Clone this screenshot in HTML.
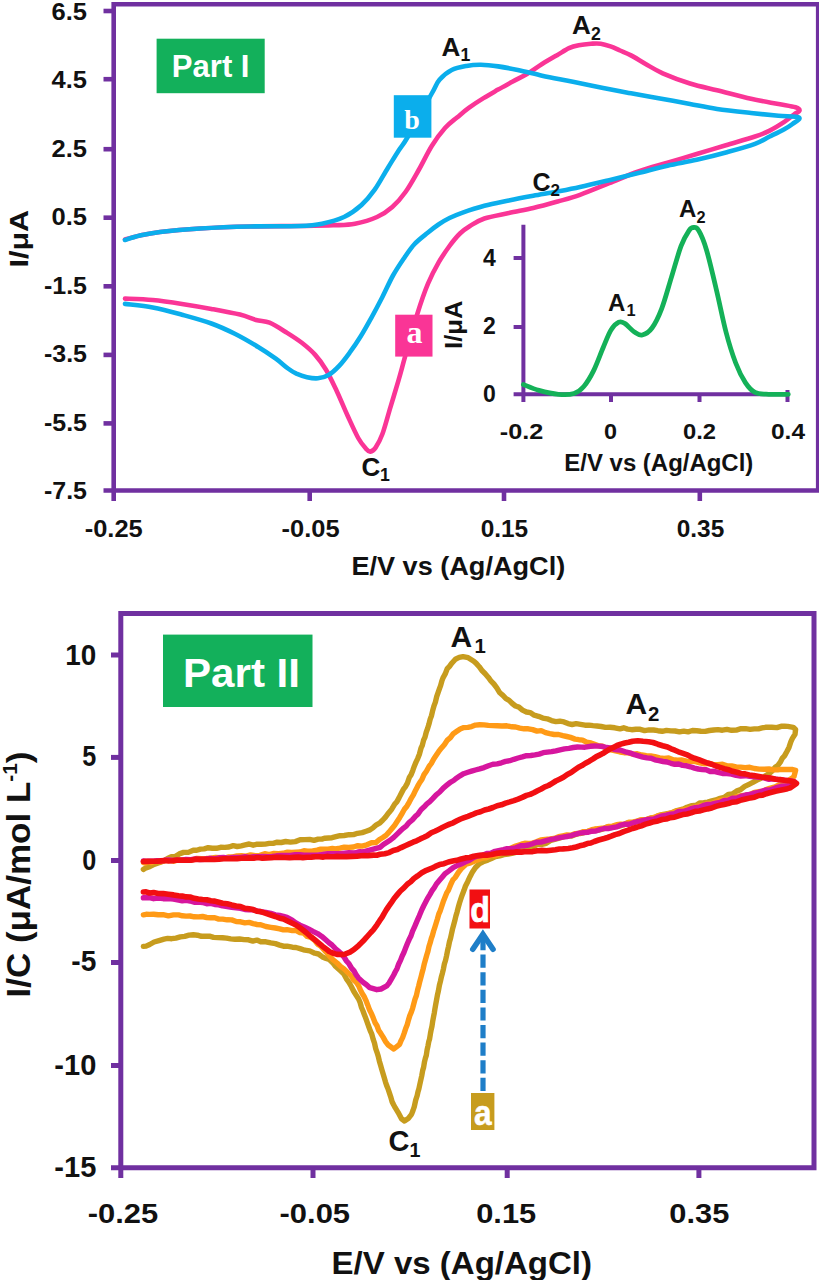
<!DOCTYPE html>
<html><head><meta charset="utf-8"><title>CV</title>
<style>html,body{margin:0;padding:0;background:#fff}body{width:819px;height:1280px;overflow:hidden}</style></head>
<body>
<svg width="819" height="1280" viewBox="0 0 819 1280" style="display:block;font-family:'Liberation Sans',sans-serif;font-weight:700">
<rect width="819" height="1280" fill="#fff"/>
<g fill="none" stroke="#7030A0" stroke-width="4.6">
<path d="M113.7 501 V4.3 H818.2 V490.5 H103.5"/>
<path d="M103.5 11.0 H113.7"/>
<path d="M103.5 79.2 H113.7"/>
<path d="M103.5 149.2 H113.7"/>
<path d="M103.5 217.7 H113.7"/>
<path d="M103.5 286.3 H113.7"/>
<path d="M103.5 354.9 H113.7"/>
<path d="M103.5 423.4 H113.7"/>
<path d="M309.7 490.5 V501"/>
<path d="M504.0 490.5 V501"/>
<path d="M699.8 490.5 V501"/>
<path d="M523.4 224.8 V402 M513.6 394.3 H788.3 M611 394.3 V402 M699.5 394.3 V402 M787.5 390 V402 M513.6 258 H523.4 M513.6 327 H523.4" stroke-width="4"/>
</g>
<g fill="none" stroke-linecap="round" stroke-linejoin="round" stroke-width="4.6">
<path d="M125.0 239.5 C127.5 238.8 134.2 236.8 140.0 235.5 C145.8 234.2 150.0 233.2 160.0 232.0 C170.0 230.8 185.0 229.4 200.0 228.5 C215.0 227.6 233.3 226.9 250.0 226.5 C266.7 226.1 286.2 226.2 300.0 226.0 C313.8 225.8 323.8 225.7 333.0 225.3 C342.2 224.9 347.7 225.1 355.0 223.7 C362.3 222.3 370.8 219.8 377.0 217.0 C383.2 214.2 387.6 211.2 392.3 207.0 C397.1 202.8 401.1 198.2 405.5 192.0 C409.9 185.8 414.3 177.7 418.7 170.0 C423.1 162.3 427.5 152.7 431.9 145.7 C436.3 138.7 440.8 132.7 445.0 128.0 C449.2 123.3 453.0 120.8 457.0 117.5 C461.0 114.2 464.4 111.1 468.8 107.9 C473.2 104.7 478.6 101.1 483.5 98.1 C488.4 95.0 493.2 92.4 498.1 89.6 C503.0 86.8 507.9 84.2 512.8 81.5 C517.7 78.8 522.5 76.6 527.4 73.7 C532.3 70.8 537.2 67.0 542.1 64.0 C547.0 61.0 552.2 58.0 556.7 55.4 C561.2 52.8 565.3 49.8 569.0 48.1 C572.7 46.4 575.1 45.9 578.7 45.2 C582.4 44.5 587.2 44.0 590.9 43.7 C594.6 43.5 597.4 43.2 600.7 43.7 C604.0 44.2 607.3 45.3 610.5 46.4 C613.7 47.5 616.6 49.0 620.0 50.5 C623.4 52.0 626.7 53.1 631.0 55.4 C635.3 57.6 640.3 61.0 645.6 64.0 C650.9 67.0 655.3 70.0 662.7 73.3 C670.1 76.5 681.0 80.7 690.0 83.5 C699.0 86.3 706.8 87.8 717.0 90.3 C727.2 92.8 740.8 96.5 751.0 98.8 C761.2 101.1 771.1 102.6 778.5 104.0 C785.9 105.4 792.0 106.2 795.5 107.3 C799.0 108.4 799.8 109.5 799.5 110.7 C799.2 111.9 796.5 112.6 794.0 114.5 C791.5 116.4 788.3 119.2 784.3 121.9 C780.2 124.6 774.6 128.2 769.7 130.6 C764.8 133.0 762.3 134.1 755.0 136.5 C747.7 138.9 735.6 142.3 725.9 145.2 C716.2 148.1 706.4 151.1 696.7 154.0 C687.0 156.9 677.2 159.8 667.5 162.7 C657.8 165.6 648.1 168.1 638.4 171.5 C628.7 174.9 618.9 179.3 609.2 183.2 C599.5 187.1 588.6 191.8 580.0 194.8 C571.4 197.9 565.5 199.3 557.7 201.5 C549.9 203.7 541.4 206.1 533.3 208.0 C525.1 209.9 517.0 211.2 508.8 213.0 C500.7 214.8 490.9 216.3 484.4 218.5 C477.9 220.7 474.1 223.5 470.0 226.0 C465.9 228.5 463.4 230.2 460.0 233.5 C456.6 236.8 453.0 241.2 449.5 246.0 C446.0 250.8 442.4 255.9 438.8 262.2 C435.2 268.5 431.6 275.1 428.0 283.7 C424.4 292.3 421.1 301.9 417.3 314.0 C413.5 326.1 408.3 345.1 405.2 356.2 C402.1 367.3 401.0 371.9 398.5 380.4 C396.0 388.9 393.1 398.4 390.4 407.3 C387.7 416.2 384.9 427.3 382.4 434.0 C379.9 440.7 377.6 444.7 375.6 447.6 C373.6 450.5 371.9 451.4 370.3 451.6 C368.7 451.8 368.2 451.3 366.2 449.0 C364.2 446.7 361.3 443.6 358.2 438.0 C355.1 432.4 351.0 423.1 347.4 415.3 C343.8 407.5 340.3 398.6 336.7 391.0 C333.1 383.4 329.6 375.7 326.0 369.7 C322.4 363.7 319.2 359.4 315.2 354.9 C311.2 350.4 306.7 346.6 301.8 342.8 C296.9 339.0 291.1 335.4 285.7 332.0 C280.3 328.6 274.4 324.7 269.5 322.7 C264.6 320.7 260.9 321.4 256.0 320.0 C251.1 318.6 247.4 316.5 240.0 314.6 C232.6 312.8 221.1 310.7 211.4 308.9 C201.7 307.1 191.8 305.4 182.0 303.9 C172.2 302.4 162.2 300.9 152.7 300.0 C143.2 299.1 129.6 298.8 125.0 298.6" stroke="#FA3596"/>
<path d="M125.0 240.0 C127.5 239.2 134.2 236.8 140.0 235.5 C145.8 234.2 150.0 233.2 160.0 232.0 C170.0 230.8 185.0 229.4 200.0 228.5 C215.0 227.6 233.3 226.9 250.0 226.5 C266.7 226.1 288.0 226.5 300.0 226.0 C312.0 225.5 314.7 225.2 322.0 223.7 C329.3 222.2 337.4 220.1 344.0 217.0 C350.6 213.9 356.4 209.6 361.5 205.0 C366.6 200.4 370.3 195.9 374.7 189.7 C379.1 183.5 383.9 174.3 388.0 167.7 C392.1 161.1 395.7 155.1 399.0 150.0 C402.3 144.9 402.3 146.3 407.7 137.0 C413.1 127.7 426.2 103.5 431.5 94.0 C436.8 84.5 436.1 83.8 439.5 79.8 C442.9 75.8 447.2 72.3 451.7 70.0 C456.2 67.7 461.5 66.8 466.4 65.9 C471.3 65.0 475.7 64.6 481.0 64.7 C486.3 64.8 492.0 65.5 498.1 66.4 C504.2 67.3 510.4 68.5 517.7 70.0 C525.0 71.5 534.0 73.9 542.1 75.7 C550.2 77.5 558.4 79.0 566.5 80.6 C574.6 82.2 582.0 83.6 590.9 85.4 C599.8 87.2 613.3 90.0 620.0 91.3 C626.7 92.6 624.3 92.1 631.0 93.3 C637.7 94.5 650.2 96.7 660.0 98.5 C669.8 100.3 680.5 102.2 690.0 104.0 C699.5 105.8 706.8 107.5 717.0 109.0 C727.2 110.5 740.8 111.9 751.0 113.0 C761.2 114.1 770.5 115.0 778.5 115.8 C786.5 116.5 796.7 116.1 799.0 117.5 C801.3 118.9 795.0 122.0 792.5 124.0 C790.0 126.0 788.1 127.1 784.3 129.2 C780.5 131.3 774.6 134.1 769.7 136.5 C764.8 138.9 762.3 141.1 755.0 143.8 C747.7 146.5 735.6 149.8 725.9 152.5 C716.2 155.2 706.4 157.6 696.7 159.8 C687.0 162.0 677.2 163.5 667.5 165.7 C657.8 167.9 648.1 170.6 638.4 173.0 C628.7 175.4 618.9 177.9 609.2 180.2 C599.5 182.5 588.6 185.1 580.0 187.0 C571.4 188.9 565.5 190.0 557.7 191.5 C549.9 193.0 541.4 194.3 533.3 195.8 C525.1 197.3 517.0 198.8 508.8 200.5 C500.7 202.2 492.2 203.8 484.4 205.8 C476.6 207.9 467.8 210.8 462.0 212.8 C456.2 214.8 453.4 216.1 449.5 218.0 C445.6 219.9 442.1 222.1 438.5 224.5 C434.9 226.9 432.0 229.2 428.0 232.5 C424.0 235.8 418.6 239.7 414.6 244.0 C410.6 248.3 407.4 253.2 403.8 258.5 C400.2 263.8 396.6 269.1 393.0 275.5 C389.4 281.9 386.0 290.0 382.4 297.0 C378.8 304.0 375.2 310.8 371.6 317.3 C368.0 323.8 364.5 330.2 360.9 336.0 C357.3 341.8 353.6 347.3 350.0 352.2 C346.4 357.1 343.0 361.8 339.4 365.6 C335.8 369.4 332.2 372.9 328.6 375.0 C325.0 377.1 321.5 377.9 317.9 378.3 C314.3 378.7 310.6 378.0 307.0 377.2 C303.4 376.4 299.6 375.1 296.4 373.7 C293.2 372.2 291.4 371.0 288.0 368.5 C284.6 366.0 280.8 362.3 275.8 358.7 C270.8 355.1 265.0 351.1 258.2 347.0 C251.4 342.9 242.6 337.7 234.8 333.8 C227.0 329.9 220.2 326.7 211.4 323.5 C202.6 320.3 191.8 317.4 182.0 314.7 C172.2 312.0 162.2 309.2 152.7 307.4 C143.2 305.6 129.6 304.5 125.0 303.9" stroke="#0BAEEC"/>
<path d="M523.4 384.5 C526.0 385.5 533.2 388.8 539.0 390.4 C544.8 392.0 552.6 393.8 558.4 394.3 C564.2 394.8 569.8 394.8 574.0 393.5 C578.2 392.2 580.5 390.3 583.8 386.5 C587.0 382.7 590.3 377.4 593.5 370.9 C596.7 364.4 600.3 354.3 603.2 347.5 C606.1 340.7 608.4 334.2 611.0 330.0 C613.6 325.8 616.5 323.3 618.8 322.2 C621.1 321.1 622.1 321.8 624.7 323.4 C627.3 325.0 631.5 330.1 634.4 332.0 C637.3 333.9 639.3 335.7 642.2 335.0 C645.1 334.3 648.8 332.4 652.0 328.0 C655.2 323.6 658.5 317.0 661.7 308.6 C664.9 300.2 668.2 287.8 671.4 277.4 C674.6 267.0 678.1 254.0 681.0 246.2 C683.9 238.4 686.9 233.7 689.0 230.6 C691.1 227.5 692.0 227.5 693.6 227.5 C695.2 227.5 696.6 226.8 698.7 230.6 C700.9 234.3 703.6 240.3 706.5 250.0 C709.4 259.7 713.0 275.3 716.2 289.0 C719.5 302.7 722.8 319.7 726.0 332.0 C729.2 344.3 732.5 354.6 735.7 363.0 C738.9 371.4 742.2 377.7 745.4 382.6 C748.6 387.5 751.1 390.4 755.0 392.3 C758.9 394.2 763.2 394.0 768.8 394.3 C774.3 394.6 785.0 394.3 788.3 394.3" stroke="#14B158" stroke-width="4.8"/>
</g>
<rect x="156.6" y="38.7" width="108.1" height="54.5" fill="#13B05B"/>
<text x="171.8" y="77.2" font-size="31.0" text-anchor="start" fill="#fff" textLength="77.7" lengthAdjust="spacingAndGlyphs" >Part I</text>
<rect x="393.8" y="95.2" width="37.6" height="42.5" fill="#0BAEEC"/>
<text x="412" y="129.4" font-size="28" text-anchor="middle" fill="#fff" font-family="'Liberation Serif',serif">b</text>
<rect x="395.2" y="314.7" width="37.3" height="41.9" fill="#FA3596"/>
<text x="414.6" y="343.3" font-size="32" text-anchor="middle" fill="#fff" font-family="'Liberation Serif',serif">a</text>
<text x="441.5" y="55.7" font-size="26.0" fill="#111">A</text>
<text x="460.5" y="60.7" font-size="17.7" fill="#111">1</text>
<text x="572.0" y="33.5" font-size="26.0" fill="#111">A</text>
<text x="591.0" y="39.5" font-size="17.7" fill="#111">2</text>
<text x="532.5" y="190.5" font-size="25.0" fill="#111">C</text>
<text x="550.5" y="195.5" font-size="17.0" fill="#111">2</text>
<text x="361.5" y="476.0" font-size="26.0" fill="#111">C</text>
<text x="380.0" y="481.0" font-size="17.7" fill="#111">1</text>
<text x="679.0" y="217.0" font-size="24.0" fill="#111">A</text>
<text x="696.5" y="223.0" font-size="16.3" fill="#111">2</text>
<text x="608.0" y="310.5" font-size="24.0" fill="#111">A</text>
<text x="626.5" y="315.5" font-size="16.3" fill="#111">1</text>
<text x="87.0" y="20.3" font-size="24.0" text-anchor="end" fill="#111" textLength="35.5" lengthAdjust="spacingAndGlyphs" >6.5</text>
<text x="87.0" y="88.3" font-size="24.0" text-anchor="end" fill="#111" textLength="35.5" lengthAdjust="spacingAndGlyphs" >4.5</text>
<text x="87.0" y="157.4" font-size="24.0" text-anchor="end" fill="#111" textLength="35.5" lengthAdjust="spacingAndGlyphs" >2.5</text>
<text x="87.0" y="224.6" font-size="24.0" text-anchor="end" fill="#111" textLength="35.5" lengthAdjust="spacingAndGlyphs" >0.5</text>
<text x="87.0" y="293.8" font-size="24.0" text-anchor="end" fill="#111" textLength="43.0" lengthAdjust="spacingAndGlyphs" >-1.5</text>
<text x="87.0" y="362.4" font-size="24.0" text-anchor="end" fill="#111" textLength="43.0" lengthAdjust="spacingAndGlyphs" >-3.5</text>
<text x="87.0" y="431.0" font-size="24.0" text-anchor="end" fill="#111" textLength="43.0" lengthAdjust="spacingAndGlyphs" >-5.5</text>
<text x="87.0" y="499.0" font-size="24.0" text-anchor="end" fill="#111" textLength="43.0" lengthAdjust="spacingAndGlyphs" >-7.5</text>
<text x="113.7" y="537.0" font-size="24.0" text-anchor="middle" fill="#111" textLength="58.0" lengthAdjust="spacingAndGlyphs" >-0.25</text>
<text x="310.6" y="537.0" font-size="24.0" text-anchor="middle" fill="#111" textLength="58.0" lengthAdjust="spacingAndGlyphs" >-0.05</text>
<text x="504.4" y="537.0" font-size="24.0" text-anchor="middle" fill="#111" textLength="47.5" lengthAdjust="spacingAndGlyphs" >0.15</text>
<text x="700.5" y="537.0" font-size="24.0" text-anchor="middle" fill="#111" textLength="47.5" lengthAdjust="spacingAndGlyphs" >0.35</text>
<text x="351.4" y="575.0" font-size="25.5" text-anchor="start" fill="#111" textLength="213.8" lengthAdjust="spacingAndGlyphs" >E/V vs (Ag/AgCl)</text>
<text transform="translate(28,267.5) rotate(-90)" font-size="25.5" fill="#111" textLength="57.5" lengthAdjust="spacingAndGlyphs">I/μA</text>
<text x="495.8" y="265.5" font-size="23.0" text-anchor="end" fill="#111" >4</text>
<text x="495.8" y="334.3" font-size="23.0" text-anchor="end" fill="#111" >2</text>
<text x="495.8" y="401.5" font-size="23.0" text-anchor="end" fill="#111" >0</text>
<text x="521.5" y="439.3" font-size="22.5" text-anchor="middle" fill="#111" textLength="43.5" lengthAdjust="spacingAndGlyphs" >-0.2</text>
<text x="610.6" y="439.3" font-size="22.5" text-anchor="middle" fill="#111" textLength="13.0" lengthAdjust="spacingAndGlyphs" >0</text>
<text x="699.5" y="439.3" font-size="22.5" text-anchor="middle" fill="#111" textLength="33.0" lengthAdjust="spacingAndGlyphs" >0.2</text>
<text x="788.0" y="439.3" font-size="22.5" text-anchor="middle" fill="#111" textLength="34.0" lengthAdjust="spacingAndGlyphs" >0.4</text>
<text x="564.3" y="470.5" font-size="23.5" text-anchor="start" fill="#111" textLength="189.0" lengthAdjust="spacingAndGlyphs" >E/V vs (Ag/AgCl)</text>
<text transform="translate(462,349) rotate(-90)" font-size="23.5" fill="#111" textLength="48.5" lengthAdjust="spacingAndGlyphs">I/μA</text>
<g fill="none" stroke="#7030A0" stroke-width="5">
<path d="M120.8 1178 V613.6 H814 V1167.8 H111"/>
<path d="M111 655.0 H120.8"/>
<path d="M111 757.4 H120.8"/>
<path d="M111 860.5 H120.8"/>
<path d="M111 962.5 H120.8"/>
<path d="M111 1065.5 H120.8"/>
<path d="M313.0 1167.8 V1178"/>
<path d="M507.2 1167.8 V1178"/>
<path d="M698.9 1167.8 V1178"/>
</g>
<g fill="none" stroke-linecap="round" stroke-linejoin="round" stroke-width="5.4">
<path d="M143.4 869.4 L146.1 867.8 L149.7 866.7 L154.1 864.4 L159.0 862.8 L164.0 860.8 L167.6 858.4 L171.3 856.7 L175.2 856.6 L179.3 853.9 L183.6 852.4 L188.3 852.4 L193.3 850.2 L196.7 850.3 L200.4 849.1 L204.2 848.9 L208.2 847.7 L212.3 848.2 L216.4 848.3 L220.6 847.3 L224.8 847.4 L229.0 847.0 L233.2 845.6 L237.2 846.5 L241.2 845.8 L245.2 844.9 L249.2 844.0 L253.2 845.2 L257.2 844.1 L261.2 844.2 L265.2 844.1 L269.2 843.4 L273.2 843.4 L277.2 842.2 L281.2 842.5 L285.7 841.5 L290.4 842.1 L295.3 841.6 L300.1 839.8 L304.9 839.6 L309.6 839.4 L314.0 840.4 L318.1 839.1 L321.8 839.1 L325.0 838.2 L332.0 837.7 L335.9 836.7 L340.0 835.7 L344.3 835.5 L349.0 834.7 L353.5 834.6 L357.6 833.3 L362.2 832.6 L366.2 831.2 L370.0 829.9 L373.3 827.6 L376.4 824.8 L380.0 822.8 L382.6 820.3 L385.5 817.1 L388.6 812.9 L391.7 809.2 L394.7 804.1 L396.8 801.9 L399.0 797.9 L401.1 793.7 L403.3 789.4 L405.3 786.8 L407.4 783.1 L409.3 777.5 L411.1 774.8 L412.9 770.2 L414.5 765.7 L416.1 761.9 L417.7 758.6 L419.4 754.3 L421.0 748.2 L422.3 745.3 L423.6 740.2 L425.0 737.1 L426.3 732.0 L427.6 728.5 L428.9 724.3 L430.2 719.1 L431.5 715.7 L432.7 710.5 L434.1 705.6 L435.4 702.1 L436.7 696.7 L438.0 692.8 L439.3 689.1 L440.6 685.6 L441.8 681.2 L443.0 677.8 L445.2 673.9 L447.3 668.6 L449.5 666.3 L451.8 663.2 L455.4 659.2 L459.2 657.4 L463.0 656.6 L468.2 657.7 L473.8 661.2 L476.4 663.6 L479.2 666.7 L482.2 670.8 L485.2 673.7 L488.4 677.4 L491.1 681.2 L493.9 684.0 L496.8 687.8 L499.8 692.8 L502.9 695.4 L506.0 698.6 L509.1 700.3 L512.3 703.5 L515.5 706.0 L518.9 707.1 L522.5 710.1 L526.5 712.0 L530.2 712.6 L534.2 715.2 L538.4 716.3 L542.8 718.1 L547.2 718.8 L551.5 720.6 L555.8 721.6 L559.9 721.2 L564.0 721.9 L568.0 723.6 L572.1 724.5 L576.2 723.7 L580.5 724.4 L585.0 725.2 L589.0 725.1 L593.0 725.6 L597.0 726.0 L601.2 726.5 L605.5 727.4 L610.0 727.2 L614.8 727.8 L620.0 728.9 L623.7 727.8 L627.6 729.1 L631.7 729.7 L635.9 729.2 L640.2 729.3 L644.6 730.6 L649.0 729.9 L653.5 730.0 L657.9 730.7 L662.3 731.3 L666.5 730.4 L670.7 730.9 L675.1 731.0 L679.5 731.9 L683.8 731.1 L688.1 731.8 L692.4 730.5 L696.7 730.7 L700.9 731.2 L705.2 731.4 L709.4 730.5 L713.7 730.0 L718.0 729.6 L722.4 730.2 L727.0 729.4 L731.6 730.3 L736.3 730.1 L741.0 728.7 L745.6 728.7 L750.1 729.4 L754.4 728.9 L758.4 728.9 L762.1 727.9 L765.5 727.3 L771.8 727.2 L776.9 727.6 L781.1 726.3 L784.6 726.2 L787.7 726.4 L793.2 727.3 L795.6 729.5 L795.0 734.3 L792.4 738.4 L790.9 741.6 L789.0 747.4 L786.9 751.5 L784.5 755.9 L782.4 758.1 L780.3 762.2 L777.9 765.4 L775.2 767.3 L771.9 771.2 L768.7 773.9 L764.9 776.0 L761.0 778.2 L756.9 780.1 L752.8 782.4 L749.0 784.3 L744.7 786.4 L740.6 789.6 L736.5 791.1 L732.4 794.0 L728.3 794.4 L724.2 797.4 L720.1 798.3 L715.9 799.9 L711.8 800.9 L707.7 802.1 L703.7 802.7 L700.0 802.9 L696.1 805.3 L691.9 805.6 L687.0 807.2 L683.5 808.9 L679.8 809.8 L675.8 810.8 L671.6 813.0 L667.4 813.7 L663.2 814.4 L659.0 815.4 L654.9 817.7 L650.9 818.0 L646.9 819.5 L643.0 819.7 L639.0 820.4 L635.1 821.9 L631.1 823.3 L627.2 823.0 L623.2 825.0 L619.2 826.1 L615.3 826.7 L611.3 827.5 L607.4 826.9 L603.4 828.8 L599.5 830.0 L595.5 829.3 L591.6 830.6 L587.6 831.5 L583.7 832.8 L579.7 833.5 L575.7 834.5 L571.7 836.0 L567.8 835.6 L563.9 836.7 L560.0 837.8 L555.5 839.1 L550.9 840.3 L546.3 843.3 L541.9 844.4 L537.6 844.4 L533.6 846.4 L530.0 847.2 L524.7 848.8 L520.5 850.3 L516.7 852.1 L513.0 853.2 L508.2 854.0 L503.9 854.6 L499.7 855.9 L495.5 856.6 L491.4 858.5 L487.7 860.1 L483.0 861.8 L479.0 864.0 L475.5 867.5 L472.3 872.3 L470.0 876.7 L467.7 881.7 L465.5 886.0 L463.9 890.6 L462.4 894.4 L461.0 898.4 L459.5 903.0 L458.3 907.3 L457.1 911.9 L455.9 916.0 L454.7 921.1 L453.5 925.4 L452.5 929.1 L451.5 933.8 L450.5 938.4 L449.5 941.6 L448.5 946.6 L447.5 950.9 L446.5 956.0 L445.5 960.5 L444.4 963.8 L443.4 969.1 L442.4 973.2 L441.5 976.4 L440.4 981.4 L439.4 985.2 L438.4 990.9 L437.4 995.2 L436.4 1000.7 L435.7 1004.5 L435.0 1008.4 L434.3 1012.9 L433.5 1017.0 L432.8 1020.7 L432.0 1026.1 L431.2 1029.6 L430.4 1033.8 L429.6 1038.9 L428.8 1041.6 L428.0 1045.8 L427.1 1049.8 L426.3 1055.3 L425.4 1058.1 L424.5 1061.8 L423.6 1067.4 L422.7 1070.4 L421.7 1076.0 L420.8 1080.0 L419.8 1084.5 L418.9 1088.7 L418.0 1091.7 L417.2 1095.5 L415.7 1100.1 L414.3 1106.6 L413.0 1110.5 L411.5 1114.4 L408.2 1118.6 L404.5 1121.0 L401.5 1118.8 L398.2 1112.6 L395.2 1107.7 L393.6 1104.8 L392.1 1101.7 L390.7 1096.8 L389.3 1092.6 L387.9 1088.5 L386.7 1085.6 L385.5 1082.1 L384.2 1077.6 L383.0 1073.5 L381.8 1069.5 L380.6 1065.3 L379.4 1061.2 L378.2 1056.1 L377.0 1052.3 L375.7 1048.6 L374.5 1043.2 L373.3 1039.7 L371.8 1034.2 L370.3 1030.9 L368.9 1027.0 L367.4 1022.9 L365.9 1018.7 L364.4 1014.7 L363.0 1011.0 L361.5 1007.5 L360.1 1002.5 L358.6 999.0 L356.2 995.3 L353.7 991.3 L351.3 986.5 L348.8 982.2 L346.3 978.6 L344.0 974.2 L341.1 971.3 L338.0 968.5 L335.5 966.3 L332.7 962.7 L329.3 959.5 L326.1 958.4 L322.4 956.9 L318.5 954.0 L314.7 953.2 L309.7 950.9 L304.8 950.2 L300.0 948.6 L296.0 947.5 L292.3 947.2 L287.0 946.1 L283.5 946.2 L279.7 945.1 L275.4 943.6 L270.8 942.9 L265.9 941.8 L260.7 941.7 L256.9 940.1 L252.9 941.1 L248.5 939.8 L244.1 939.6 L239.6 939.0 L235.1 939.3 L230.7 938.9 L226.5 938.1 L222.6 937.7 L218.0 937.6 L213.6 937.4 L209.4 936.1 L205.4 936.2 L201.4 936.3 L197.4 935.2 L193.3 934.8 L189.0 935.1 L184.7 936.4 L180.3 936.9 L175.9 938.1 L171.7 938.7 L167.7 938.4 L164.0 939.1 L159.0 940.6 L154.1 942.0 L149.7 944.5 L146.1 946.1 L143.4 946.4" stroke="#C79C1E"/>
<path d="M143.4 862.5 L145.6 863.0 L148.2 861.8 L151.1 862.6 L154.3 861.5 L157.7 861.5 L161.4 861.7 L165.3 860.5 L169.5 860.2 L173.7 861.2 L178.2 860.0 L182.7 859.8 L187.3 859.9 L192.0 859.8 L196.8 858.4 L201.5 858.6 L206.3 858.5 L211.0 858.2 L215.6 857.5 L220.2 857.8 L224.6 858.1 L228.9 856.9 L233.1 856.9 L237.0 855.9 L241.5 855.8 L246.0 856.1 L250.6 854.9 L255.3 855.7 L260.0 855.4 L264.7 853.7 L269.3 854.7 L274.0 853.4 L278.6 853.7 L283.1 853.3 L287.5 852.2 L291.8 852.4 L296.0 852.1 L300.1 852.0 L303.9 850.8 L307.6 851.2 L311.1 851.3 L314.3 850.6 L317.3 850.1 L320.0 849.2 L328.0 849.1 L332.4 848.5 L334.9 848.9 L336.9 848.6 L340.0 848.1 L344.3 847.1 L348.8 847.4 L353.4 847.0 L357.8 845.7 L362.0 846.1 L366.9 844.8 L371.5 842.8 L375.8 842.6 L380.0 839.2 L383.2 837.3 L386.1 835.3 L389.0 832.1 L391.8 828.7 L394.7 825.2 L397.1 821.6 L399.6 817.7 L402.0 813.6 L404.4 809.3 L406.9 806.2 L409.3 802.1 L411.4 798.1 L413.5 794.7 L415.6 790.2 L417.7 786.2 L419.8 782.5 L421.9 779.5 L424.0 774.6 L426.4 771.2 L428.9 766.7 L431.3 763.5 L433.7 758.9 L436.2 755.2 L438.6 751.7 L441.5 747.9 L444.5 744.4 L447.4 740.1 L450.4 737.6 L453.3 733.7 L456.8 731.3 L460.2 729.0 L463.8 727.6 L467.9 727.4 L471.6 726.6 L475.5 725.1 L479.7 724.8 L484.0 724.9 L488.4 725.4 L492.8 725.6 L497.3 725.8 L501.9 726.0 L506.8 725.8 L511.9 726.8 L515.8 727.0 L519.8 728.1 L524.1 728.8 L528.3 728.8 L532.7 729.6 L537.0 731.1 L541.2 730.6 L545.5 732.6 L549.8 733.6 L554.2 734.5 L558.6 734.5 L562.8 735.6 L566.8 736.5 L570.5 737.4 L575.0 739.1 L578.9 739.7 L582.6 740.1 L586.5 742.2 L591.0 743.0 L594.6 744.3 L598.5 745.8 L602.5 746.1 L606.7 748.7 L611.0 749.9 L615.5 750.9 L620.0 752.0 L624.1 752.7 L628.4 752.9 L632.8 754.1 L637.3 753.8 L641.8 755.0 L646.3 755.7 L650.7 755.9 L654.9 756.6 L659.6 757.9 L664.2 758.5 L668.7 758.0 L673.1 759.8 L677.6 760.2 L682.0 760.0 L686.5 761.1 L691.0 761.4 L695.5 761.6 L700.0 762.8 L704.5 763.8 L709.0 763.3 L713.5 764.6 L718.0 764.7 L722.5 764.3 L727.0 765.9 L731.6 766.0 L736.1 767.0 L740.6 767.1 L745.2 767.6 L749.7 767.3 L754.4 768.5 L759.3 769.1 L764.2 769.3 L769.0 769.0 L773.6 769.9 L777.8 769.7 L781.4 769.4 L788.0 769.5 L792.7 769.5 L795.6 770.3 L794.0 776.5 L791.5 778.6 L788.2 780.8 L784.3 782.6 L779.9 784.5 L775.0 786.9 L769.7 788.3 L766.3 789.6 L762.5 791.2 L758.5 791.7 L754.4 792.3 L750.1 794.5 L745.7 795.2 L741.3 795.7 L736.8 796.7 L732.5 798.0 L728.3 799.2 L724.2 799.6 L720.0 800.3 L715.9 801.7 L711.8 803.6 L707.6 803.6 L703.5 805.2 L699.4 805.8 L695.3 806.9 L691.1 807.8 L687.0 809.2 L682.9 809.9 L678.7 810.7 L674.6 811.9 L670.4 813.0 L666.3 814.6 L662.2 814.9 L658.0 815.8 L653.9 817.5 L649.7 818.4 L645.6 819.8 L641.5 819.7 L637.3 821.1 L633.2 822.0 L629.0 822.2 L624.9 824.5 L620.8 824.1 L616.6 824.7 L612.5 826.1 L608.3 826.4 L604.2 828.0 L600.1 828.4 L595.9 828.9 L591.8 829.6 L587.6 831.5 L583.5 831.6 L579.4 833.3 L575.2 833.6 L571.1 835.2 L566.9 835.0 L562.8 835.8 L558.6 836.7 L554.2 838.4 L549.8 839.0 L545.3 839.5 L540.8 839.9 L536.5 841.8 L532.3 843.1 L528.4 843.4 L524.7 843.3 L521.4 844.2 L515.8 846.1 L511.2 848.1 L507.3 849.7 L503.7 851.3 L500.0 853.7 L495.2 855.6 L490.7 855.5 L486.5 857.7 L482.6 858.0 L478.1 859.8 L474.1 861.3 L470.6 862.9 L466.0 864.2 L462.0 867.9 L458.5 872.2 L455.2 877.5 L452.9 879.9 L450.7 884.5 L448.4 890.2 L446.7 892.9 L444.9 897.5 L443.2 901.8 L441.5 907.0 L440.1 911.2 L438.8 914.0 L437.4 919.0 L436.1 923.2 L434.7 927.7 L433.6 931.0 L432.4 935.5 L431.3 938.5 L430.2 942.7 L429.0 946.4 L427.9 951.4 L426.7 955.2 L425.6 959.2 L424.4 963.4 L423.2 968.7 L422.1 972.8 L421.0 977.1 L419.8 981.4 L418.7 986.0 L417.6 990.0 L416.4 995.5 L415.0 999.2 L413.8 1003.7 L412.6 1008.3 L411.2 1012.4 L409.8 1015.6 L408.5 1019.9 L407.2 1024.7 L406.0 1027.7 L404.2 1033.2 L402.6 1037.6 L401.1 1040.6 L399.6 1044.3 L393.8 1049.0 L387.9 1044.7 L385.6 1041.6 L383.1 1037.1 L380.6 1033.2 L378.8 1030.7 L377.0 1025.8 L375.1 1022.8 L373.3 1018.1 L371.5 1013.7 L369.6 1010.1 L367.7 1004.9 L365.9 1000.3 L364.1 996.5 L362.2 993.5 L360.4 989.9 L358.6 985.7 L356.2 982.2 L353.7 980.1 L351.3 975.9 L348.1 972.9 L344.0 968.9 L340.8 966.6 L337.1 963.0 L333.1 959.8 L329.3 955.9 L326.4 952.4 L323.5 949.2 L320.5 945.9 L317.6 944.1 L314.7 940.4 L311.0 937.4 L307.2 936.4 L303.6 933.1 L300.0 932.6 L296.0 930.3 L292.3 930.6 L287.0 929.6 L283.5 929.9 L279.7 928.8 L275.4 928.0 L270.8 927.3 L265.9 926.5 L260.7 924.8 L257.0 924.5 L253.1 923.6 L249.1 922.4 L244.9 922.9 L240.6 921.8 L236.2 921.5 L231.7 919.9 L227.2 919.8 L222.6 919.1 L218.8 919.1 L214.8 917.7 L210.8 917.7 L206.7 917.5 L202.5 916.5 L198.3 916.9 L194.2 916.8 L190.1 916.0 L186.1 916.1 L182.3 915.8 L178.6 914.9 L173.5 914.9 L168.4 915.8 L163.2 914.7 L158.3 914.8 L153.6 914.2 L149.5 914.4 L146.1 914.3 L143.4 914.8" stroke="#FF9A16"/>
<path d="M143.4 861.0 L145.6 861.4 L148.1 861.1 L150.9 861.2 L154.0 861.2 L157.3 860.6 L160.9 860.9 L164.7 860.3 L168.7 860.0 L172.8 860.4 L177.1 860.2 L181.5 860.1 L186.0 859.4 L190.7 859.6 L195.3 859.0 L200.1 859.5 L204.8 859.2 L209.6 858.3 L214.3 858.9 L219.0 857.8 L223.6 857.5 L228.2 858.1 L232.7 857.4 L237.0 857.5 L241.0 857.5 L245.2 856.6 L249.4 857.3 L253.8 856.6 L258.2 856.6 L262.8 856.4 L267.4 856.7 L272.0 856.5 L276.6 855.8 L281.3 855.4 L285.9 855.5 L290.5 855.4 L295.1 854.8 L299.6 854.8 L304.0 855.3 L308.3 855.1 L312.5 855.3 L316.6 855.1 L320.5 854.8 L324.2 854.1 L327.8 853.7 L331.2 853.7 L334.4 853.7 L337.3 853.7 L340.0 853.6 L348.8 852.8 L354.5 853.0 L358.0 852.0 L360.3 851.8 L362.3 852.0 L365.0 851.4 L370.6 849.9 L375.2 848.7 L380.0 847.4 L383.4 844.5 L386.9 842.2 L390.4 840.0 L394.0 837.1 L397.6 833.6 L400.5 830.8 L403.5 828.1 L406.4 825.8 L409.3 822.3 L412.3 819.9 L415.2 816.6 L418.1 813.9 L421.0 809.8 L423.9 807.1 L426.9 803.9 L429.8 801.6 L432.7 798.6 L436.2 794.8 L439.7 792.0 L443.3 788.1 L446.8 785.2 L450.3 782.3 L453.6 780.5 L456.8 777.9 L460.0 775.8 L463.6 773.7 L467.9 772.3 L471.5 771.2 L475.4 770.0 L479.6 768.9 L484.0 767.6 L488.5 765.7 L492.9 764.3 L497.2 763.9 L501.4 762.8 L505.6 761.4 L509.8 760.7 L513.9 759.3 L518.1 758.0 L522.3 756.9 L526.5 755.7 L530.7 755.5 L534.9 754.9 L539.1 754.1 L543.2 752.7 L547.4 752.1 L551.6 751.6 L555.8 750.8 L560.1 749.8 L564.5 748.9 L568.9 748.4 L573.3 747.5 L577.5 747.0 L581.4 747.1 L585.0 747.2 L590.2 746.3 L594.6 746.0 L598.6 746.1 L602.7 746.5 L606.6 747.5 L610.3 747.9 L614.4 749.5 L620.0 750.0 L623.1 751.0 L626.6 752.2 L630.5 753.1 L634.5 754.7 L638.6 755.9 L642.9 757.1 L647.0 757.9 L651.1 758.2 L654.9 759.8 L659.0 760.7 L663.0 761.5 L667.0 762.0 L670.9 763.3 L674.8 764.3 L678.7 764.0 L682.6 765.4 L686.5 765.8 L690.4 766.8 L694.4 768.1 L698.3 769.0 L702.2 769.5 L706.2 769.8 L710.1 771.5 L714.1 771.3 L718.0 772.3 L722.5 773.5 L727.0 773.5 L731.6 774.1 L736.1 775.4 L740.6 776.0 L745.2 775.7 L749.7 776.4 L754.4 776.8 L759.3 777.2 L764.2 777.9 L769.0 779.4 L773.6 778.8 L777.8 779.5 L781.4 779.9 L788.9 780.6 L794.5 781.7 L795.6 783.1 L793.8 784.0 L790.5 784.7 L786.1 786.0 L781.0 786.3 L775.4 787.9 L769.7 790.1 L766.2 789.9 L762.4 791.1 L758.4 792.3 L754.3 793.1 L750.0 794.5 L745.6 795.0 L741.2 796.3 L736.8 798.2 L732.5 798.3 L728.3 800.3 L724.2 800.4 L720.0 802.4 L715.9 803.1 L711.8 804.1 L707.6 804.5 L703.5 805.4 L699.4 807.2 L695.3 807.6 L691.1 808.6 L687.0 810.4 L682.9 811.5 L678.7 811.5 L674.6 813.7 L670.4 814.2 L666.3 815.1 L662.2 815.8 L658.0 817.2 L653.9 818.9 L649.7 819.1 L645.6 819.9 L641.5 820.8 L637.3 821.7 L633.2 822.8 L629.0 824.3 L624.9 824.2 L620.8 825.1 L616.6 826.9 L612.5 827.7 L608.3 828.5 L604.2 828.5 L600.1 829.5 L595.9 831.0 L591.8 831.2 L587.6 832.3 L583.5 832.6 L579.4 833.1 L575.2 834.3 L571.1 835.6 L566.9 836.5 L562.8 837.1 L558.6 837.8 L554.2 838.9 L549.8 839.7 L545.3 840.8 L540.9 842.1 L536.5 842.3 L532.4 843.7 L528.4 845.0 L524.7 845.7 L521.4 845.6 L515.7 847.8 L511.1 848.7 L507.1 848.7 L503.4 849.7 L499.7 850.4 L495.1 851.3 L490.9 853.3 L486.8 853.5 L482.6 855.2 L478.2 855.8 L473.7 857.4 L469.4 860.2 L465.5 861.8 L461.0 864.0 L457.1 865.6 L453.5 867.4 L449.0 870.9 L445.0 873.7 L442.1 877.3 L439.3 880.6 L436.4 884.0 L434.3 887.6 L432.1 890.6 L430.0 894.3 L427.9 897.8 L425.8 901.8 L423.6 906.0 L421.4 910.7 L419.3 915.8 L417.6 919.6 L415.9 923.6 L414.2 927.7 L412.5 931.3 L410.8 936.3 L409.1 939.6 L407.4 943.5 L405.6 948.1 L403.9 952.5 L402.2 956.0 L400.5 960.4 L398.7 964.0 L397.0 968.7 L395.3 971.8 L393.7 975.0 L391.2 979.3 L389.0 983.1 L386.8 985.9 L381.0 989.0 L376.8 989.7 L369.8 987.7 L366.5 984.7 L362.7 982.0 L358.6 978.1 L356.4 975.2 L354.0 970.9 L351.5 968.2 L349.0 963.8 L346.5 961.0 L344.0 957.0 L341.0 953.5 L338.0 950.7 L335.0 948.2 L332.0 945.0 L329.3 943.0 L325.4 939.5 L321.8 936.4 L317.6 933.6 L313.5 931.6 L308.9 929.2 L304.2 926.9 L300.0 925.2 L295.8 922.9 L292.1 920.1 L287.0 917.3 L283.5 916.3 L279.7 915.5 L275.4 914.9 L270.8 913.4 L265.9 912.4 L260.7 911.7 L257.0 910.9 L253.1 909.9 L249.1 909.8 L244.9 909.5 L240.6 908.3 L236.2 907.8 L231.7 907.2 L227.2 906.5 L222.6 905.9 L218.8 904.8 L214.8 904.5 L210.8 903.3 L206.7 903.7 L202.5 902.5 L198.3 902.1 L194.2 902.2 L190.1 901.0 L186.1 900.4 L182.3 900.8 L178.6 900.1 L173.5 899.1 L168.4 898.6 L163.2 898.7 L158.3 898.0 L153.6 898.7 L149.5 897.7 L146.1 897.7 L143.4 897.8" stroke="#D6169E"/>
<path d="M143.4 861.5 L145.6 861.3 L148.1 861.4 L150.9 861.2 L154.0 861.2 L157.3 861.2 L160.9 860.9 L164.7 860.5 L168.7 861.0 L172.8 860.7 L177.1 860.0 L181.5 860.2 L186.0 860.3 L190.7 860.3 L195.3 859.4 L200.1 859.2 L204.8 859.4 L209.6 859.2 L214.3 859.5 L219.0 859.3 L223.6 858.7 L228.2 858.7 L232.7 858.7 L237.0 858.8 L241.0 858.2 L245.1 858.2 L249.3 857.9 L253.6 858.2 L258.0 857.6 L262.4 858.3 L266.9 857.9 L271.5 857.8 L276.0 857.3 L280.5 857.4 L285.1 857.5 L289.6 857.7 L294.1 857.4 L298.5 857.1 L302.9 857.6 L307.2 857.2 L311.4 857.1 L315.5 856.7 L319.4 856.7 L323.3 857.1 L327.0 856.4 L330.5 856.7 L333.9 856.7 L337.0 856.4 L340.0 856.6 L346.6 856.6 L352.2 856.4 L357.0 856.2 L361.0 855.7 L364.6 855.6 L367.8 855.7 L370.8 855.4 L373.7 855.1 L376.7 855.2 L380.0 854.2 L384.7 853.7 L389.2 852.6 L393.3 850.5 L397.3 849.6 L401.2 847.6 L405.2 845.7 L409.3 843.9 L413.0 842.2 L416.6 840.8 L420.3 838.9 L424.0 837.3 L427.6 835.4 L431.3 832.8 L434.9 831.2 L438.6 829.4 L442.3 827.5 L445.9 825.8 L449.6 824.1 L453.2 822.8 L456.9 820.8 L460.6 819.0 L464.2 817.6 L467.9 816.3 L472.1 814.7 L476.3 812.9 L480.5 811.8 L484.6 810.0 L488.8 809.0 L493.0 807.5 L497.2 805.7 L501.4 804.8 L505.6 803.1 L509.8 801.9 L513.9 800.6 L518.1 799.1 L522.3 797.4 L526.5 795.4 L530.2 794.4 L533.8 792.8 L537.5 790.8 L541.2 789.0 L544.8 786.9 L548.5 785.5 L552.1 783.3 L555.8 781.0 L559.5 779.3 L563.4 777.2 L567.3 774.4 L571.1 772.5 L574.9 769.8 L578.5 767.3 L581.9 765.6 L585.0 763.5 L589.3 761.2 L593.1 758.9 L596.4 756.6 L599.6 755.1 L602.7 753.6 L606.5 751.1 L610.0 749.0 L613.4 747.4 L617.0 745.5 L620.8 744.1 L624.8 743.0 L628.7 742.3 L632.7 741.2 L637.8 740.7 L643.0 741.3 L648.5 741.7 L653.0 742.5 L657.8 744.2 L662.7 745.7 L667.5 747.0 L671.2 748.8 L674.8 750.2 L678.4 751.8 L682.3 753.1 L686.5 754.6 L690.4 756.6 L694.5 758.3 L698.8 759.6 L703.1 761.3 L707.5 763.0 L711.8 764.2 L716.0 766.0 L720.1 767.3 L724.2 768.6 L728.4 769.7 L732.6 771.3 L737.0 772.3 L741.0 773.5 L745.1 773.9 L749.3 774.9 L753.6 775.5 L757.7 776.3 L761.7 777.1 L765.5 777.4 L770.6 778.1 L775.5 779.2 L780.1 779.5 L784.2 780.3 L787.7 780.6 L793.9 781.8 L796.5 783.4 L790.4 787.8 L787.5 788.7 L784.2 789.4 L780.2 790.3 L775.4 791.2 L769.7 792.8 L766.4 793.7 L762.7 795.1 L758.8 795.5 L754.6 797.2 L750.3 797.9 L745.8 799.0 L741.4 800.0 L736.9 801.7 L732.5 802.2 L728.3 803.6 L724.2 804.5 L720.0 805.3 L715.9 806.4 L711.8 808.0 L707.6 808.9 L703.5 809.9 L699.4 811.0 L695.3 811.4 L691.1 812.9 L687.0 814.0 L682.9 814.6 L678.7 815.8 L674.6 817.2 L670.4 817.6 L666.3 819.0 L662.2 819.5 L658.0 820.9 L653.9 821.7 L649.7 823.0 L645.6 824.1 L641.4 825.8 L637.0 827.2 L632.5 828.5 L628.0 830.2 L623.6 831.6 L619.3 833.5 L615.1 834.6 L611.2 836.2 L607.5 837.5 L604.2 838.5 L598.7 840.0 L594.4 841.5 L590.8 843.0 L587.3 843.6 L583.5 845.0 L579.7 845.8 L576.2 847.0 L572.6 847.8 L568.3 848.5 L562.8 848.9 L559.4 849.0 L555.4 849.7 L551.1 850.2 L546.5 850.7 L541.8 850.4 L537.2 850.7 L532.6 851.6 L528.4 851.7 L524.6 851.7 L521.4 852.1 L515.7 851.9 L512.0 852.4 L508.9 852.6 L505.0 852.9 L500.8 852.9 L496.2 853.4 L491.5 854.4 L486.8 855.2 L482.6 855.1 L478.0 855.6 L473.7 856.3 L469.7 857.5 L465.5 857.9 L461.2 858.9 L456.9 860.3 L452.7 861.1 L448.4 862.0 L444.0 863.7 L439.6 864.6 L435.3 866.4 L431.3 868.4 L426.4 870.3 L421.8 872.8 L417.6 875.9 L413.9 878.5 L410.7 881.8 L407.4 884.1 L403.9 887.9 L400.4 891.0 L397.1 894.9 L394.1 898.5 L391.3 902.7 L388.5 906.6 L386.3 909.9 L384.1 913.6 L382.0 917.4 L380.0 920.2 L377.0 924.8 L373.3 929.9 L370.8 932.5 L367.7 936.0 L364.4 939.7 L361.3 942.9 L358.6 945.6 L353.8 949.7 L350.0 952.1 L344.0 954.5 L337.0 954.4 L333.6 953.4 L329.3 951.5 L326.1 948.9 L322.4 946.2 L318.5 942.8 L314.7 939.7 L311.0 936.8 L307.2 933.5 L303.6 930.5 L300.0 927.8 L296.0 925.0 L292.3 923.3 L287.0 920.7 L283.5 919.0 L279.7 918.2 L275.4 916.5 L270.8 915.0 L265.9 913.3 L260.7 911.6 L257.0 911.3 L253.1 909.6 L249.1 908.8 L244.9 908.3 L240.6 906.5 L236.2 905.9 L231.7 904.9 L227.2 903.7 L222.6 903.3 L218.8 902.2 L214.8 901.1 L210.8 900.8 L206.7 899.7 L202.5 899.5 L198.3 899.0 L194.2 898.3 L190.1 897.0 L186.1 896.9 L182.3 896.1 L178.6 895.7 L173.5 894.9 L168.4 894.3 L163.2 893.6 L158.3 893.5 L153.6 892.6 L149.5 893.0 L146.1 891.9 L143.4 892.0" stroke="#F20F12" stroke-width="5.6"/>
</g>
<rect x="163" y="634.6" width="149.5" height="72.4" fill="#13B05B"/>
<text x="183.0" y="686.5" font-size="40.5" text-anchor="start" fill="#fff" textLength="117.0" lengthAdjust="spacingAndGlyphs" >Part II</text>
<rect x="469.5" y="889.5" width="20.5" height="39" fill="#F20F12"/>
<text x="470.2" y="921.6" font-size="35" fill="#fff" stroke="#fff" stroke-width="0.7" textLength="19.6" lengthAdjust="spacingAndGlyphs">d</text>
<rect x="471" y="1093" width="23.4" height="37" fill="#C79C1E"/>
<text x="474" y="1124.5" font-size="35" fill="#fff" stroke="#fff" stroke-width="0.5" textLength="17.6" lengthAdjust="spacingAndGlyphs">a</text>
<path d="M483 1091 V937" stroke="#1E7EC8" stroke-width="5.2" stroke-dasharray="13.2 4.4" fill="none"/>
<path d="M472.8 949.3 L482.9 934.3 L493 949.3" stroke="#1E7EC8" stroke-width="5.6" fill="none" stroke-linecap="round" stroke-linejoin="miter"/>
<text x="450.5" y="647.0" font-size="30.0" fill="#111">A</text>
<text x="474.5" y="653.0" font-size="20.4" fill="#111">1</text>
<text x="625.5" y="713.8" font-size="30.0" fill="#111">A</text>
<text x="648.0" y="720.8" font-size="20.4" fill="#111">2</text>
<text x="388.5" y="1151.0" font-size="29.0" fill="#111">C</text>
<text x="409.5" y="1157.0" font-size="19.7" fill="#111">1</text>
<text x="96.3" y="665.0" font-size="29.0" text-anchor="end" fill="#111" textLength="31.0" lengthAdjust="spacingAndGlyphs" >10</text>
<text x="96.3" y="766.0" font-size="29.0" text-anchor="end" fill="#111" textLength="14.0" lengthAdjust="spacingAndGlyphs" >5</text>
<text x="96.3" y="870.0" font-size="29.0" text-anchor="end" fill="#111" textLength="14.0" lengthAdjust="spacingAndGlyphs" >0</text>
<text x="96.3" y="971.0" font-size="29.0" text-anchor="end" fill="#111" textLength="25.0" lengthAdjust="spacingAndGlyphs" >-5</text>
<text x="96.3" y="1074.5" font-size="29.0" text-anchor="end" fill="#111" textLength="42.0" lengthAdjust="spacingAndGlyphs" >-10</text>
<text x="96.3" y="1177.0" font-size="29.0" text-anchor="end" fill="#111" textLength="42.0" lengthAdjust="spacingAndGlyphs" >-15</text>
<text x="123.0" y="1223.0" font-size="28.5" text-anchor="middle" fill="#111" textLength="70.5" lengthAdjust="spacingAndGlyphs" >-0.25</text>
<text x="314.8" y="1223.0" font-size="28.5" text-anchor="middle" fill="#111" textLength="70.5" lengthAdjust="spacingAndGlyphs" >-0.05</text>
<text x="506.2" y="1223.0" font-size="28.5" text-anchor="middle" fill="#111" textLength="60.0" lengthAdjust="spacingAndGlyphs" >0.15</text>
<text x="699.3" y="1223.0" font-size="28.5" text-anchor="middle" fill="#111" textLength="60.0" lengthAdjust="spacingAndGlyphs" >0.35</text>
<text x="331.5" y="1274.0" font-size="31.5" text-anchor="start" fill="#111" textLength="260.5" lengthAdjust="spacingAndGlyphs" >E/V vs (Ag/AgCl)</text>
<text transform="translate(30,997.5) rotate(-90)" font-size="33.5" fill="#111" textLength="246" lengthAdjust="spacingAndGlyphs">I/C (μA/mol L<tspan font-size="20" dy="-13">-1</tspan><tspan dy="13">)</tspan></text>
</svg>
</body></html>
